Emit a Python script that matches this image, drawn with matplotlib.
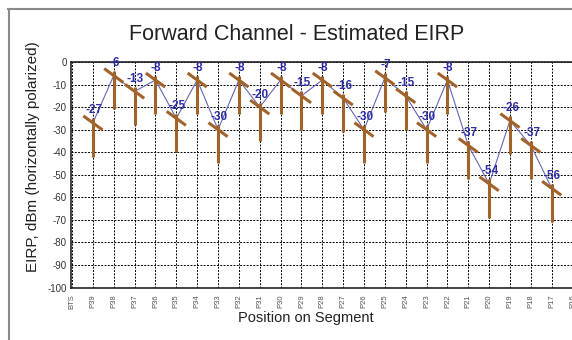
import matplotlib.pyplot as plt
from matplotlib.lines import Line2D

# Data
positions = ['BTS', 'P39', 'P38', 'P37', 'P36', 'P35', 'P34', 'P33', 'P32',
             'P31', 'P30', 'P29', 'P28', 'P27', 'P26', 'P25', 'P24', 'P23',
             'P22', 'P21', 'P20', 'P19', 'P18', 'P17', 'P16']
pole_names = positions[1:24]
eirp = [-27, -6, -13, -8, -25, -8, -30, -8, -20, -8, -15, -8, -16, -30,
        -7, -15, -30, -8, -37, -54, -26, -37, -56]

plt.rcParams['font.family'] = ['Liberation Sans', 'DejaVu Sans']
plt.rcParams['axes.unicode_minus'] = False

fig = plt.figure(figsize=(5.72, 3.4), dpi=100)

# screenshot frame
fig.add_artist(Line2D([8 / 572, 1.0], [1 - 8.5 / 340, 1 - 8.5 / 340],
                      transform=fig.transFigure, color='#8a8a8a', lw=1.5))
fig.add_artist(Line2D([8.5 / 572, 8.5 / 572], [0, 1 - 8.5 / 340],
                      transform=fig.transFigure, color='#8a8a8a', lw=1.5))

# axes runs off the right edge like the screenshot
ax = fig.add_axes([71 / 572, 52.5 / 340, 522 / 572, 225.5 / 340])
ax.set_xlim(-0.05, 24.98)
ax.set_ylim(-100, 0)

ax.set_xticks(range(len(positions)))
ax.set_xticklabels(positions, rotation=90, fontsize=5.5, color='#555555')
ax.set_yticks(range(-100, 1, 10))
ax.tick_params(axis='y', length=0, pad=3, labelsize=7, labelcolor='#333333')
ax.tick_params(axis='x', length=0, pad=5)
ax.grid(True, color='black', linestyle=(0, (2, 1.4)), lw=0.7)
for s in ax.spines.values():
    s.set_color('#222222')
    s.set_linewidth(1.2)

xs = list(range(1, 24))
ax.plot(xs, eirp, color='#6366b8', lw=0.8, zorder=3)

brown = '#a2632b'
for x, v in zip(xs, eirp):
    # pole
    ax.plot([x, x], [v + 2, v - 15], color=brown, lw=2.2,
            solid_capstyle='butt', zorder=4)
    # crossarm
    ax.plot([x - 0.46, x + 0.46], [v + 3.1, v - 3.1], color=brown, lw=2.2,
            solid_capstyle='butt', zorder=4)
    ax.annotate(str(v), (x, v), xytext=(0.5, 9), textcoords='offset points',
                ha='center', va='center', fontsize=8.5, fontweight='bold',
                color='#2e2ea6', zorder=5)

fig.text(297 / 572, 1 - 34 / 340, 'Forward Channel - Estimated EIRP',
         ha='center', va='center', fontsize=15.5, color='#222222')
fig.text(33 / 572, 1 - 157 / 340, 'EIRP, dBm (horizontally polarized)',
         rotation=90, ha='center', va='center', fontsize=11,
         color='#222222')
fig.text(306 / 572, 1 - 318 / 340, 'Position on Segment',
         ha='center', va='center', fontsize=10.5, color='#222222')

fig.savefig('out.png', dpi=100)
